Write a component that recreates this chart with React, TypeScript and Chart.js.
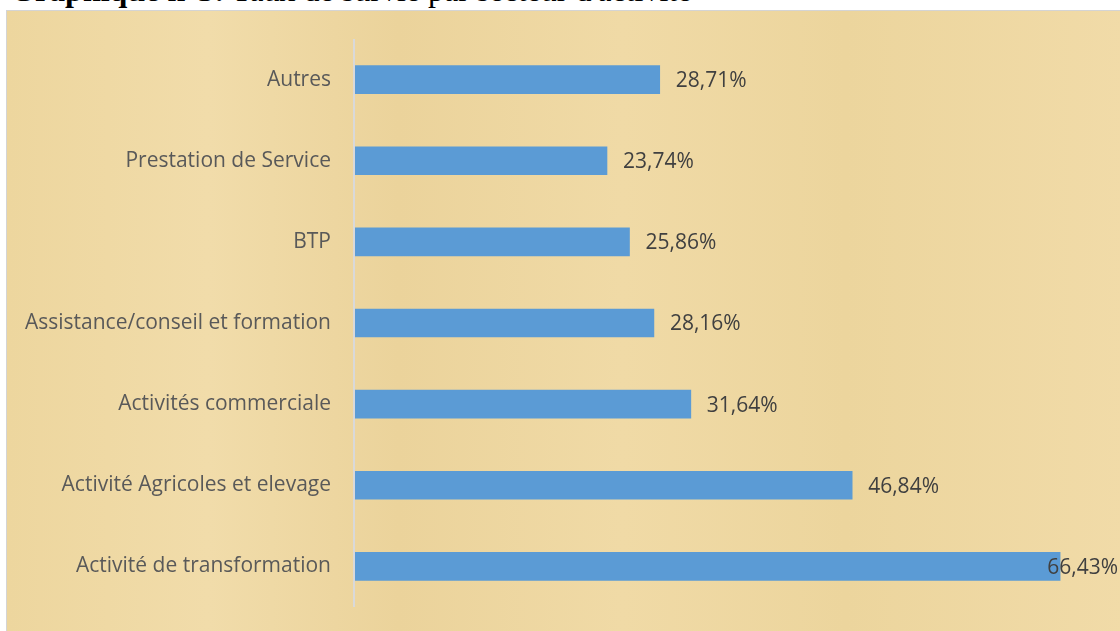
import React, { useEffect, useRef } from "react";
import { Chart, registerables } from "chart.js";

Chart.register(...registerables);

const categories: string[] = [
  "Autres",
  "Prestation de Service",
  "BTP",
  "Assistance/conseil et formation",
  "Activités commerciale",
  "Activité Agricoles et elevage",
  "Activité de transformation",
];

const survivalRates: number[] = [28.71, 23.74, 25.86, 28.16, 31.64, 46.84, 66.43];

const valueLabels: string[] = ["28,71%", "23,74%", "25,86%", "28,16%", "31,64%", "46,84%", "66,43%"];

const axisMin = 0;
const axisMax = 70;

const LABEL_FONT = "'Open Sans', Lato, sans-serif";

const axisLinePlugin = {
  id: "axisLine",
  afterDatasetsDraw(chart: any) {
    const { ctx, chartArea } = chart;
    ctx.save();
    ctx.fillStyle = "#d9d9d9";
    ctx.fillRect(chartArea.left - 2, chartArea.top, 2, chartArea.bottom - chartArea.top);
    ctx.restore();
  },
};

const dataLabelPlugin = {
  id: "dataLabels",
  afterDatasetsDraw(chart: any) {
    const ctx = chart.ctx;
    const meta = chart.getDatasetMeta(0);
    ctx.save();
    ctx.font = `21px ${LABEL_FONT}`;
    ctx.fillStyle = "#404040";
    ctx.textBaseline = "middle";
    ctx.textAlign = "left";
    meta.data.forEach((bar: any, i: number) => {
      const text = valueLabels[i];
      const w = ctx.measureText(text).width;
      let x = bar.x + 16;
      const maxX = chart.width - 2 - w;
      if (x > maxX) x = maxX;
      ctx.fillText(text, x, bar.y + 1.5);
    });
    ctx.restore();
  },
};

export default function App() {
  const canvasRef = useRef<HTMLCanvasElement | null>(null);

  useEffect(() => {
    document.body.style.margin = "0";
    const canvas = canvasRef.current;
    if (!canvas) return;
    const chart = new Chart(canvas, {
      type: "bar",
      data: {
        labels: categories,
        datasets: [
          {
            data: survivalRates,
            backgroundColor: "#5b9bd5",
            borderWidth: 0,
            barThickness: 28,
          },
        ],
      },
      options: {
        indexAxis: "y",
        animation: false,
        responsive: false,
        maintainAspectRatio: false,
        layout: { padding: { left: 0, right: 22, top: 39, bottom: 24 } },
        plugins: {
          legend: { display: false },
          tooltip: { enabled: false },
          title: { display: false },
        },
        scales: {
          x: {
            display: false,
            min: axisMin,
            max: axisMax,
            grid: { display: false },
          },
          y: {
            afterFit(scale: any) {
              scale.width = 355;
              scale.paddingTop = 0;
              scale.paddingBottom = 0;
            },
            grid: { display: false, drawTicks: false },
            border: { display: false },
            ticks: {
              padding: 24,
              color: "#595959",
              font: { family: LABEL_FONT, size: 21 },
            },
          },
        },
      },
      plugins: [axisLinePlugin, dataLabelPlugin],
    });
    return () => chart.destroy();
  }, []);

  return (
    <div style={{ position: "relative", width: 1120, height: 631, overflow: "hidden", background: "#ffffff" }}>
      <div
        style={{
          position: "absolute",
          left: 10,
          top: -26,
          whiteSpace: "nowrap",
          fontFamily: "'Liberation Serif', 'Times New Roman', serif",
          fontSize: 32,
          lineHeight: "32px",
          color: "#000",
        }}
      >
        <b>Graphique n°3:</b> Taux de survie par secteur d'activité
      </div>
      <div
        style={{
          position: "absolute",
          left: 6,
          top: 10,
          width: 1120,
          height: 630,
          boxSizing: "border-box",
          border: "1px solid #d4d4d4",
          background:
            "linear-gradient(90deg, #edd69e 0%, #f1dcaa 18%, #ebd39b 35%, #f0daa6 55%, #ecd59d 75%, #f1dba8 100%)",
        }}
      />
      <canvas
        ref={canvasRef}
        width={1120}
        height={631}
        style={{ position: "absolute", left: 0, top: 0, width: 1120, height: 631 }}
      />
    </div>
  );
}
